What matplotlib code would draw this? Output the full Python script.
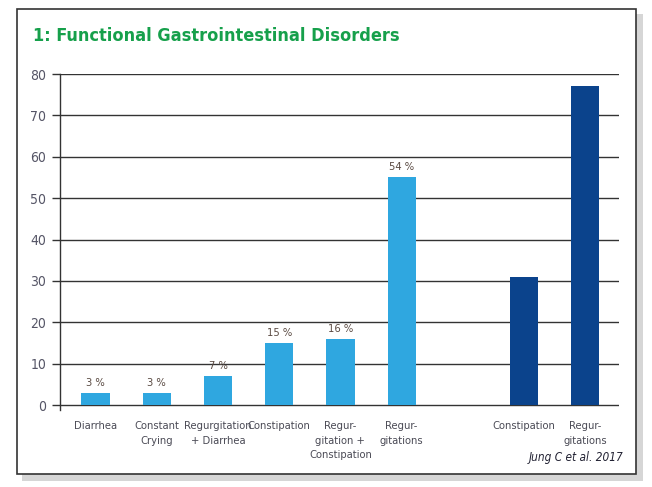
import matplotlib
matplotlib.use("Agg")
import matplotlib.pyplot as plt
from matplotlib.patches import Rectangle

FONT = dict(family='DejaVu Sans', fontstretch='condensed')

# data
categories = ['Diarrhea', 'Constant\nCrying', 'Regurgitation\n+ Diarrhea', 'Constipation',
              'Regur-\ngitation +\nConstipation', 'Regur-\ngitations',
              'Constipation', 'Regur-\ngitations']
positions = [0, 1, 2, 3, 4, 5, 7, 8]
values = [3, 3, 7, 15, 16, 55, 31, 77]
value_labels = ['3 %', '3 %', '7 %', '15 %', '16 %', '54 %', None, None]
light_blue = '#2FA7E0'
dark_blue = '#0B438C'
colors = [light_blue] * 6 + [dark_blue] * 2

W, H = 652, 487
fig = plt.figure(figsize=(W / 100, H / 100), dpi=100)

def fx(px):
    return px / W

def fy(py):
    return 1 - py / H

# shadow and frame
fig.patches.append(Rectangle((fx(22), fy(481)), fx(643 - 22), fy(14) - fy(481),
                             transform=fig.transFigure, facecolor='#d6d6d6',
                             edgecolor='none', zorder=0))
fig.patches.append(Rectangle((fx(17), fy(474)), fx(636 - 17), fy(9) - fy(474),
                             transform=fig.transFigure, facecolor='white',
                             edgecolor='#333333', linewidth=1.2, zorder=1))

fig.text(fx(33), fy(36), '1: Functional Gastrointestinal Disorders', color='#16A04B',
         fontsize=13, fontweight='bold', va='center', ha='left', **FONT)

ax = fig.add_axes([fx(60), fy(410), fx(619 - 60), fy(74) - fy(410)])
ax.set_zorder(2)
ax.patch.set_visible(False)

ax.bar(positions, values, width=0.46, color=colors, zorder=3)
for p, v, lab in zip(positions, values, value_labels):
    if lab:
        ax.text(p, v + 1.2, lab, ha='center', va='bottom', fontsize=8,
                color='#5a4a42', **FONT)

ax.set_xlim(-0.58, 8.55)
ax.set_ylim(-1.2, 80)
for y in range(0, 81, 10):
    ax.axhline(y, color='#333333', linewidth=1, zorder=1)

ax.set_yticks(range(0, 81, 10))
ax.tick_params(axis='y', length=6, width=1, color='#333333', labelcolor='#555566',
               labelsize=10, pad=4)
for t in ax.get_yticklabels():
    t.set_family('DejaVu Sans')
    t.set_fontstretch('condensed')

ax.set_xticks(positions)
ax.set_xticklabels(categories, fontsize=8, color='#4a4a55', va='top',
                   linespacing=1.55, **FONT)
ax.tick_params(axis='x', length=0, pad=8)

for s in ['top', 'right', 'bottom']:
    ax.spines[s].set_visible(False)
ax.spines['left'].set_color('#333333')
ax.spines['left'].set_linewidth(1)

fig.text(fx(623), fy(458), 'Jung C et al. 2017', ha='right', va='center', fontsize=8.5,
         style='italic', color='#222233', **FONT)

fig.savefig('out.png', dpi=100)
